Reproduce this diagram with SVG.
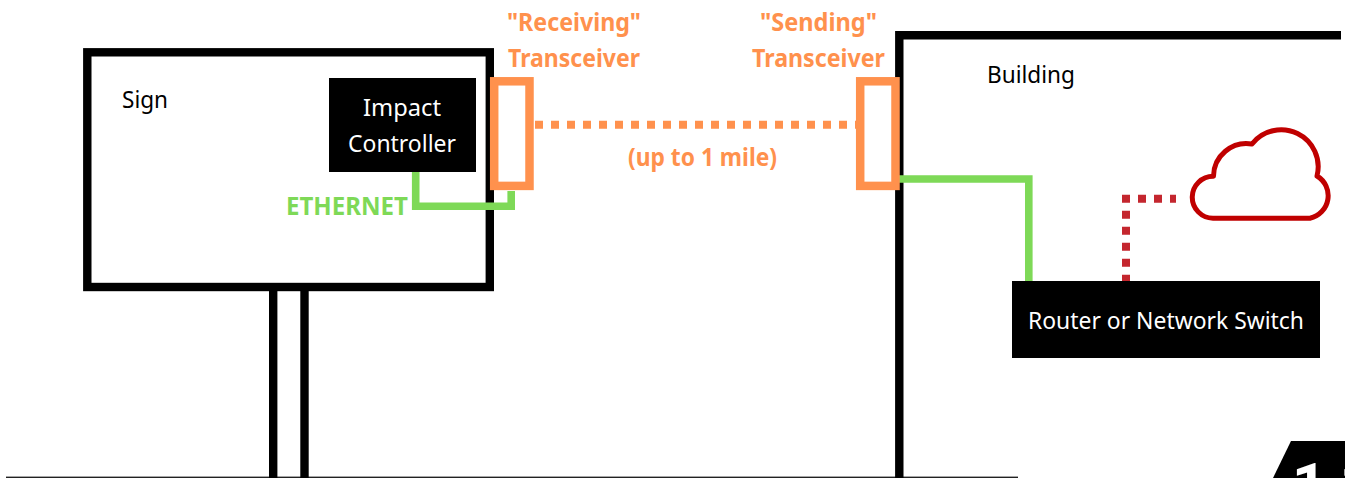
<svg xmlns="http://www.w3.org/2000/svg" width="1345" height="478" viewBox="0 0 1345 478">
<style>
.frame{fill:none;stroke:#000;stroke-width:8.4}
.box{fill:#000}
.tr{fill:#fff;stroke:#FF914D;stroke-width:8.5}
.green{fill:none;stroke:#7ED957;stroke-width:7.6}
.orange{fill:none;stroke:#FF914D;stroke-width:8;stroke-dasharray:8 8}
.red{fill:none;stroke:#C4262E;stroke-width:8;stroke-dasharray:8 8}
text{font-family:"Noto Sans","Open Sans",sans-serif}
.d{font-size:24px;fill:#000}
.w{font-size:24px;fill:#fff;text-anchor:start}
.o{font-size:24.500px;font-weight:700;fill:#FF914D}
.g{font-size:24.500px;font-weight:700;fill:#7ED957}
</style>
<rect width="1345" height="478" fill="#fff"/>
<g id="ground"><rect x="6" y="476.6" width="1012" height="1.4" fill="#222"/></g>
<g id="sign">
<rect class="frame" x="87.3" y="52.3" width="402.5" height="234.7"/>
<rect class="box" x="269" y="291" width="8.4" height="187"/>
<rect class="box" x="300.3" y="291" width="8.4" height="187"/>
<text class="d" x="122" y="108" textLength="46" lengthAdjust="spacingAndGlyphs">Sign</text>
</g>
<g id="building">
<path class="frame" d="M899.3 478V35.3H1341"/>
<text class="d" x="987" y="83" textLength="88" lengthAdjust="spacingAndGlyphs">Building</text>
</g>
<g id="connectors">
<path class="green" d="M415.7 172V206.3H511.2V191"/>
<path class="green" d="M899 179H1028.8V281"/>
<path class="orange" d="M535 124.700H857"/>
<path class="red" d="M1122 198.700H1176M1126 194.700V282"/>
</g>
<g id="impact-controller">
<rect class="box" x="329" y="78" width="147" height="94"/>
<text class="w" x="363" y="116" textLength="78" lengthAdjust="spacingAndGlyphs">Impact</text>
<text class="w" x="348" y="152" textLength="108" lengthAdjust="spacingAndGlyphs">Controller</text>
</g>
<g id="ethernet-label"><text class="g" x="286" y="215" textLength="122" lengthAdjust="spacingAndGlyphs">ETHERNET</text></g>
<g id="receiving-transceiver">
<rect class="tr" x="494.2" y="81.3" width="35.3" height="104.6"/>
<text class="o" x="507" y="31" textLength="134" lengthAdjust="spacingAndGlyphs">"Receiving"</text>
<text class="o" x="508" y="67" textLength="132" lengthAdjust="spacingAndGlyphs">Transceiver</text>
</g>
<g id="sending-transceiver">
<rect class="tr" x="860.2" y="81.3" width="35.3" height="104.6"/>
<text class="o" x="760" y="31" textLength="117" lengthAdjust="spacingAndGlyphs">"Sending"</text>
<text class="o" x="752" y="67" textLength="133" lengthAdjust="spacingAndGlyphs">Transceiver</text>
</g>
<g id="distance-label"><text class="o" x="628" y="166" textLength="149" lengthAdjust="spacingAndGlyphs">(up to 1 mile)</text></g>
<g id="router">
<rect class="box" x="1012" y="281" width="308" height="77"/>
<text class="w" x="1028" y="329" textLength="276" lengthAdjust="spacingAndGlyphs">Router or Network Switch</text>
</g>
<g id="cloud">
<path d="M1213 218.200A21 21 0 0 1 1213.500 176.200A33 33 0 0 1 1252 144A37 37 0 0 1 1317 176A23 23 0 0 1 1310 218.200Z" fill="none" stroke="#C00000" stroke-width="5" stroke-linejoin="round"/>
</g>
<g id="page-badge">
<path d="M1291 441H1345V478H1273Z" fill="#000"/>
<text x="1292" y="505" font-size="60" font-weight="700" fill="#fff" letter-spacing="13" style="font-family:'Roboto',sans-serif">11</text>
</g>
</svg>
